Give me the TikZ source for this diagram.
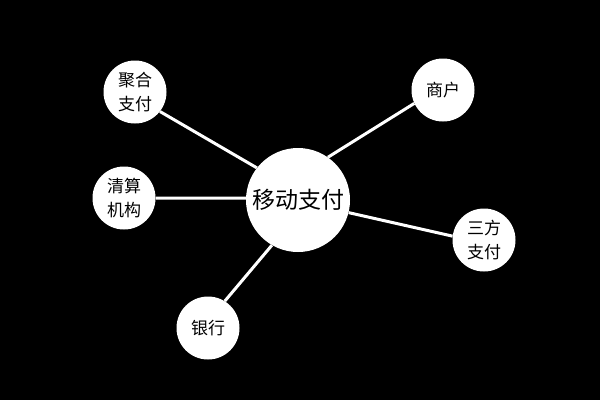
\documentclass[tikz,border=0pt]{standalone}
\usepackage{fontspec}
\newfontfamily\cjk{Noto Sans CJK SC}
\usepackage{tikz}
\usetikzlibrary{positioning}

\tikzset{
	hub/.style={circle, fill=white, inner sep=0pt, minimum size=104pt, font=\cjk\fontsize{23}{28}\selectfont},
	leaf/.style={circle, fill=white, inner sep=0pt, minimum size=63pt, align=center, font=\cjk\fontsize{17}{24}\selectfont},
	spoke/.style={draw=white, line width=3pt}
}

\begin{document}
\begin{tikzpicture}[x=1pt, y=-1pt]
			\fill[black] (0,0) rectangle (600,400);
			\useasboundingbox (0,0) rectangle (600,400);
			\node[hub] (pay) at (298,200) {移动支付};
			\node[leaf] (agg) at (135,92) {聚合\\支付};
			\node[leaf] (shop) at (443,90) {商户};
			\node[leaf] (clear) at (124,198) {清算\\机构};
			\node[leaf] (third) at (484,240) {三方\\支付};
			\node[leaf] (bank) at (208,328) {银行};
			\foreach \n/\a/\b in {agg/142/322, shop/55/205, clear/178/0, third/-14/173, bank/240/58}{
				\draw[spoke] (pay.\a) -- (\n.\b);
			}
		\end{tikzpicture}
\end{document}
